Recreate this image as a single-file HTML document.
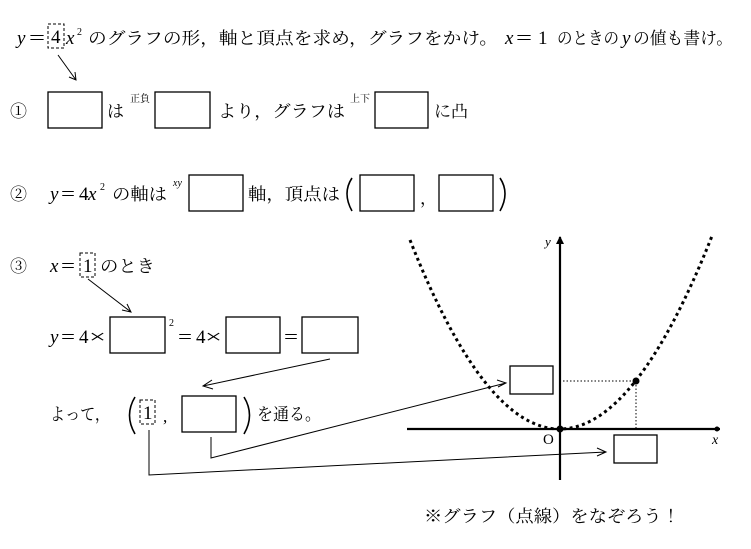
<!DOCTYPE html>
<html><head><meta charset="utf-8"><style>
html,body{margin:0;padding:0;background:#fff;width:751px;height:549px;overflow:hidden}
svg{display:block}
text{font-family:"Liberation Serif","Noto Serif CJK JP","Noto Sans CJK JP",serif;font-size:17px;fill:#000}
.i{font-style:italic}
.s{font-size:10px}
.m{font-size:19px}
.b{fill:none;stroke:#000;stroke-width:1.3}
.d{fill:none;stroke:#000;stroke-width:1;stroke-dasharray:3,2}
.l{fill:none;stroke:#000;stroke-width:1}
.p{fill:none;stroke:#000;stroke-width:1.6}
</style></head><body>
<svg width="751" height="549" viewBox="0 0 751 549">
<!-- title -->
<text x="17" y="44" class="i m">y</text><text x="29" y="44" class="m" textLength="16" lengthAdjust="spacingAndGlyphs">=</text>
<rect class="d" x="48" y="24" width="16" height="24"/><text x="51" y="43" class="m">4</text>
<text x="66" y="44" class="i m">x</text><text x="77" y="35" class="s">2</text>
<text x="88" y="44" textLength="410" lengthAdjust="spacingAndGlyphs">のグラフの形，軸と頂点を求め，グラフをかけ。</text>
<text x="505" y="44" class="i m">x</text><text x="516" y="44" class="m" textLength="16" lengthAdjust="spacingAndGlyphs">=</text><text x="538" y="44" class="m">1</text>
<text x="557" y="44" textLength="62" lengthAdjust="spacingAndGlyphs">のときの</text>
<text x="622" y="44" class="i m">y</text>
<text x="633" y="44" textLength="100" lengthAdjust="spacingAndGlyphs">の値も書け。</text>
<path class="l" d="M58 55 L76 80 M69 77 L76 80 L75 72"/>
<!-- row1 -->
<text x="10" y="117">①</text>
<rect class="b" x="48" y="92" width="54" height="36"/>
<text x="107" y="117">は</text>
<text x="130" y="102" class="s">正負</text>
<rect class="b" x="155" y="92" width="55" height="36"/>
<text x="218" y="117" textLength="127" lengthAdjust="spacingAndGlyphs">より，グラフは</text>
<text x="350" y="102" class="s">上下</text>
<rect class="b" x="375" y="92" width="53" height="36"/>
<text x="434" y="117" textLength="34" lengthAdjust="spacingAndGlyphs">に凸</text>
<!-- row2 -->
<text x="10" y="200">②</text>
<text x="50" y="200" class="i m">y</text><text x="61" y="200" class="m" textLength="14" lengthAdjust="spacingAndGlyphs">=</text>
<text x="79" y="200" class="m">4</text><text x="88" y="200" class="i m">x</text>
<text x="100" y="190" class="s">2</text>
<text x="112" y="200" textLength="55" lengthAdjust="spacingAndGlyphs">の軸は</text>
<text x="173" y="186" class="s i">xy</text>
<rect class="b" x="189" y="175" width="54" height="36"/>
<text x="248" y="200" textLength="92" lengthAdjust="spacingAndGlyphs">軸，頂点は</text>
<path class="p" d="M352 178 Q342 193 352 211"/>
<rect class="b" x="360" y="175" width="54" height="36"/>
<text x="420" y="204">，</text>
<rect class="b" x="439" y="175" width="54" height="36"/>
<path class="p" d="M500 178 Q510 193 500 211"/>
<!-- row3 -->
<text x="10" y="272">③</text>
<text x="50" y="272" class="i m">x</text><text x="61" y="272" class="m" textLength="14" lengthAdjust="spacingAndGlyphs">=</text>
<rect class="d" x="80" y="253" width="15" height="24"/><text x="83" y="272" class="m">1</text>
<text x="100" y="272" textLength="55" lengthAdjust="spacingAndGlyphs">のとき</text>
<path class="l" d="M88 279 L131 312 M122 310 L131 312 L127 304"/>
<text x="50" y="343" class="i m">y</text><text x="61" y="343" class="m" textLength="14" lengthAdjust="spacingAndGlyphs">=</text>
<text x="79" y="343" class="m">4</text><text x="89" y="343" class="m" textLength="17" lengthAdjust="spacingAndGlyphs">×</text>
<rect class="b" x="110" y="317" width="55" height="36"/>
<text x="169" y="326" class="s">2</text>
<text x="178" y="343" class="m" textLength="14" lengthAdjust="spacingAndGlyphs">=</text>
<text x="196" y="343" class="m">4</text><text x="205" y="343" class="m" textLength="17" lengthAdjust="spacingAndGlyphs">×</text>
<rect class="b" x="226" y="317" width="54" height="36"/>
<text x="284" y="343" class="m" textLength="14" lengthAdjust="spacingAndGlyphs">=</text>
<rect class="b" x="302" y="317" width="56" height="36"/>
<path class="l" d="M330 359 L203 386 M212 380 L203 386 L213 389"/>
<text x="50" y="420" textLength="60" lengthAdjust="spacingAndGlyphs">よって，</text>
<path class="p" d="M135 397 Q124 415 135 434"/>
<rect class="d" x="140" y="400" width="15" height="24"/><text x="143" y="419" class="m">1</text>
<text x="163" y="422">,</text>
<rect class="b" x="182" y="396" width="54" height="36"/>
<path class="p" d="M244 397 Q255 415 244 434"/>
<text x="257" y="420" textLength="64" lengthAdjust="spacingAndGlyphs">を通る。</text>
<path class="l" d="M211 437 L211 458 L506 383 M497 380 L506 383 L498 387"/>
<path class="l" d="M149 430 L149 475 L606 452 M597 448 L606 452 L597 456"/>
<!-- graph -->
<path d="M407 429 H720" stroke="#000" stroke-width="2.2"/>
<circle cx="717" cy="429" r="2.5"/>
<path d="M560 480 V237" stroke="#000" stroke-width="2.2"/>
<path d="M556 244 L560 236 L564 244 Z"/>
<text x="545" y="246" class="i" style="font-size:13px">y</text>
<text x="543" y="444" style="font-size:15px">O</text>
<text x="712" y="444" class="i" style="font-size:14px">x</text>
<path d="M410 240 Q560 620 712 236" fill="none" stroke="#000" stroke-width="3" stroke-dasharray="3,3.4"/>
<path d="M563 381 H636 V429" fill="none" stroke="#000" stroke-width="1" stroke-dasharray="1.5,2"/>
<circle cx="636" cy="381" r="3.5"/>
<circle cx="560" cy="429" r="3.5"/>
<rect class="b" x="510" y="366" width="43" height="28"/>
<rect class="b" x="614" y="435" width="43" height="28"/>
<text x="424" y="522" textLength="256" lengthAdjust="spacingAndGlyphs">※グラフ（点線）をなぞろう！</text>
</svg>
</body></html>
